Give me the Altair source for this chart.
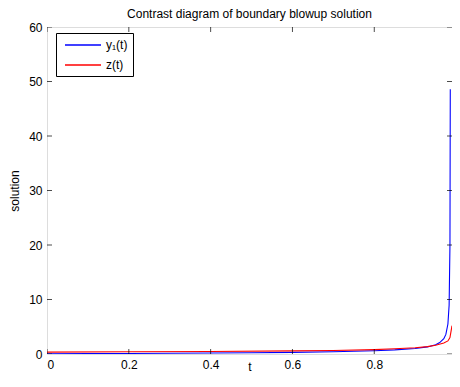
import altair as alt
import pandas as pd

# data
t_y1 = [0.0, 0.1, 0.2, 0.3, 0.4, 0.5, 0.6, 0.7, 0.8, 0.85, 0.9, 0.93, 0.95, 0.96, 0.97, 0.975, 0.98, 0.983, 0.985, 0.9858]
v_y1 = [0.05, 0.07, 0.1, 0.13, 0.17, 0.22, 0.3, 0.4, 0.6, 0.75, 1.0, 1.3, 1.7, 2.1, 2.8, 3.6, 5.5, 9.0, 20.0, 48.6]
t_z = [0.0, 0.2, 0.4, 0.6, 0.7, 0.8, 0.85, 0.9, 0.93, 0.95, 0.97, 0.98, 0.985, 0.99]
v_z = [0.35, 0.4, 0.47, 0.57, 0.65, 0.8, 0.95, 1.15, 1.35, 1.6, 2.0, 2.4, 3.0, 5.2]
series_names = ["y\u2081(t)", "z(t)"]
series_colors = ["#0000ff", "#ff0000"]
x_ticks = [0, 0.2, 0.4, 0.6, 0.8]
y_ticks = [0, 10, 20, 30, 40, 50, 60]
x_lim = [0, 0.99]
y_lim = [0, 60]

rows = []
for i, (t, v) in enumerate(zip(t_y1, v_y1)):
    rows.append({"t": t, "v": v, "s": series_names[0], "o": i})
for i, (t, v) in enumerate(zip(t_z, v_z)):
    rows.append({"t": t, "v": v, "s": series_names[1], "o": i})
df = pd.DataFrame(rows)
xt_df = pd.DataFrame({"xt": x_ticks})
yt_df = pd.DataFrame({"yt": y_ticks})

W, H = 405, 327
FONT = "Liberation Sans"
FS = 12

xs = alt.Scale(domain=x_lim, nice=False, zero=False)
ys = alt.Scale(domain=y_lim, nice=False)

x_main = alt.Axis(values=x_ticks, ticks=False, domain=False, grid=False,
                  labelFont=FONT, labelFontSize=FS, labelColor="black", labelPadding=5,
                  format=".1~f", title="t", titleFont=FONT, titleFontSize=FS,
                  titleFontWeight="normal", titleColor="black", titlePadding=-9)
y_main = alt.Axis(values=y_ticks, ticks=False, domain=False, grid=False,
                  labelFont=FONT, labelFontSize=FS, labelColor="black", labelPadding=5,
                  title="solution", titleFont=FONT, titleFontSize=FS,
                  titleFontWeight="normal", titleColor="black", titlePadding=7)

lines = alt.Chart(df).mark_line(strokeWidth=1.1, clip=True).encode(
    x=alt.X("t:Q", scale=xs, axis=x_main),
    y=alt.Y("v:Q", scale=ys, axis=y_main),
    color=alt.Color("s:N", scale=alt.Scale(domain=series_names, range=series_colors),
                    legend=alt.Legend(title=None, orient="none", legendX=9, legendY=6,
                                      strokeColor="black", fillColor="white", padding=5,
                                      symbolType="M-3,0L3,0", symbolSize=144,
                                      symbolStrokeWidth=1.3,
                                      labelFont=FONT, labelFontSize=FS, labelColor="black",
                                      rowPadding=7, symbolOffset=15, labelOffset=16)),
    order="o:Q",
)

# inward ticks: tick marks centred on the frame, outer half clipped away
xtick_marks = [
    alt.Chart(xt_df).mark_tick(orient="vertical", size=10, thickness=1, color="black", clip=True).encode(
        x=alt.X("xt:Q", scale=xs), y=alt.datum(yv, scale=ys))
    for yv in y_lim
]
ytick_marks = [
    alt.Chart(yt_df).mark_tick(orient="horizontal", size=10, thickness=1, color="black", clip=True).encode(
        y=alt.Y("yt:Q", scale=ys), x=alt.datum(xv, scale=xs))
    for xv in x_lim
]

chart = alt.layer(lines, *xtick_marks, *ytick_marks).properties(
    width=W, height=H,
    title=alt.Title("Contrast diagram of boundary blowup solution", font=FONT, fontSize=FS,
                    fontWeight="normal", color="black", frame="group", offset=0),
    autosize=alt.AutoSizeParams(type="none"),
    padding={"left": 39, "top": 19, "right": 0, "bottom": 21},
).configure_view(stroke="black", strokeWidth=1.2).configure(background="white")

chart.save("out.html", embed_options={"renderer": "svg", "actions": False})
